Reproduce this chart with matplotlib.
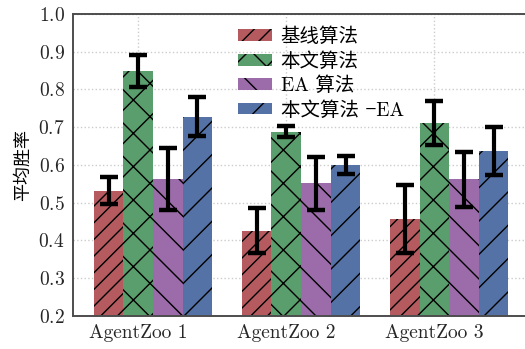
import matplotlib
matplotlib.use('Agg')
import matplotlib.pyplot as plt
import numpy as np

plt.rcParams['font.family'] = ['cmr10', 'Noto Sans CJK SC', 'DejaVu Serif']
plt.rcParams['axes.formatter.use_mathtext'] = True
plt.rcParams['hatch.linewidth'] = 1.0

groups = ['AgentZoo 1', 'AgentZoo 2', 'AgentZoo 3']
labels = ['基线算法', '本文算法', 'EA 算法', '本文算法 \u2212EA']

# mean win rate and error per method, one value per group
baseline = [0.532, 0.426, 0.456]
baseline_err = [0.036, 0.059, 0.090]
ours = [0.849, 0.688, 0.711]
ours_err = [0.042, 0.015, 0.058]
ea = [0.562, 0.551, 0.562]
ea_err = [0.082, 0.069, 0.073]
ours_ea = [0.728, 0.601, 0.637]
ours_ea_err = [0.052, 0.024, 0.064]

colors = ['#B55B60', '#5A9E6E', '#9C6CAA', '#5472A5']
hatches = ['//', 'x', '\\', '/']

fig = plt.figure(figsize=(5.25, 3.49), dpi=100)
ax = fig.add_axes([0.139, 0.0946, 0.869, 0.8653])

x = np.arange(len(groups))
width = 0.2
series = [(baseline, baseline_err), (ours, ours_err), (ea, ea_err), (ours_ea, ours_ea_err)]
for i, (vals, errs) in enumerate(series):
    ax.bar(x + (i - 1) * width, vals, width, yerr=errs, color=colors[i], hatch=hatches[i],
           label=labels[i], zorder=2,
           error_kw=dict(ecolor='black', elinewidth=3, capsize=6.8, capthick=3.2, zorder=3))

ax.set_ylim(0.2, 1.0)
ax.set_yticks(np.arange(0.2, 1.01, 0.1))
ax.set_xticks(x)
ax.set_xticklabels(groups)
ax.set_ylabel('平均胜率', fontsize=13, labelpad=5)
ax.tick_params(axis='both', labelsize=14, colors='0.15')
ax.tick_params(axis='x', direction='in', length=5, width=1.2, pad=6, color='0.3')
ax.tick_params(axis='y', length=0, pad=6)
ax.grid(True, linestyle=':', linewidth=1.0, color='0.8', zorder=0)
ax.set_axisbelow(True)
for side in ['left', 'bottom', 'top']:
    ax.spines[side].set_color('0.3')
    ax.spines[side].set_linewidth(1.4)
ax.spines['right'].set_visible(False)

ax.legend(loc='upper left', bbox_to_anchor=(0.323, 1.013), frameon=False, fontsize=14,
          handlelength=1.75, handleheight=0.55, labelspacing=0.3, handletextpad=0.45)

fig.savefig('out.png', dpi=100)
